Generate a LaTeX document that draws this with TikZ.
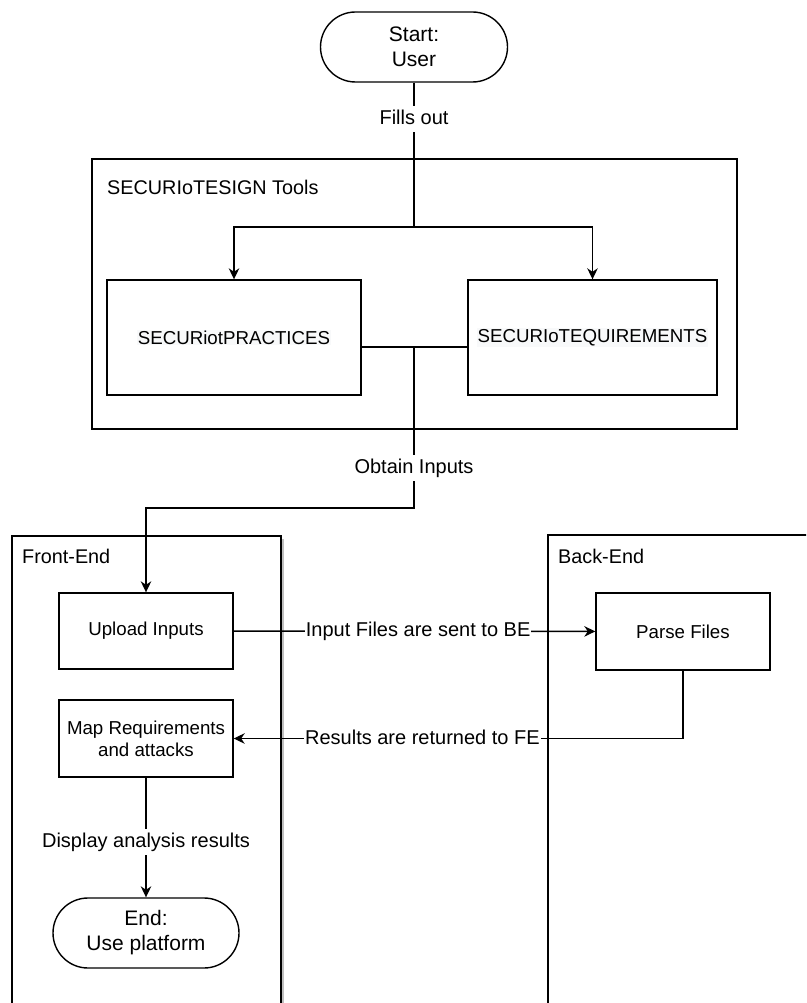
\documentclass[tikz,border=0pt]{standalone}
\usepackage{fontspec}
\setmainfont{Liberation Sans}
\usetikzlibrary{arrows.meta,shadows}
\definecolor{hlgray}{HTML}{F8F9FA}
\begin{document}
\begin{tikzpicture}[x=1pt, y=-1pt,
    every node/.style={font=\fontsize{18.7}{22}\selectfont},
    box/.style={draw, line width=1.4pt, fill=white, inner sep=0pt, align=center},
    terminal/.style={box, rounded corners=35pt, minimum height=70pt, font=\fontsize{21}{25}\selectfont},
    group/.style={draw, line width=1.4pt, inner sep=0pt},
    grouplbl/.style={anchor=west, inner sep=0pt, font=\fontsize{19.8}{24}\selectfont},
    edgelbl/.style={fill=white, inner xsep=1pt, inner ysep=3.5pt, text height=15pt, text depth=4pt, font=\fontsize{20}{24}\selectfont},
    flow/.style={line width=1.4pt},
    arrow/.style={flow, -{Stealth[length=11pt, width=10.5pt, inset=3.5pt]}}]
    \useasboundingbox (0,0) rectangle (806,1003);
    \clip (0,0) rectangle (806,1003);
    \node[group, minimum width=645pt, minimum height=270pt] (tools) at (414.5,294) {};
    \node[group, fill=white, minimum width=269pt, minimum height=474pt, drop shadow={shadow xshift=2.5pt, shadow yshift=-2.5pt, fill=black, opacity=0.25}] (frontend) at (146.5,773) {};
    \node[group, minimum width=267pt, minimum height=475pt] (backend) at (681.5,772.5) {};
    \node[grouplbl] (toolslbl) at (107,187) {SECURIoTESIGN Tools};
    \node[grouplbl] (frontlbl) at (22,556) {Front-End};
    \node[grouplbl] (backlbl) at (558,556) {Back-End};
    \node[terminal, minimum width=187pt] (start) at (414,47) {Start:\\User};
    \node[box, minimum width=254pt, minimum height=115pt] (practices) at (234,337.5) {\setlength{\fboxsep}{1pt}\colorbox{hlgray}{SECURiotPRACTICES}};
    \node[box, minimum width=249pt, minimum height=115pt] (requirements) at (592.5,337.5) {\setlength{\fboxsep}{1pt}\colorbox{hlgray}{SECURIoTEQUIREMENTS}};
    \node[box, minimum width=174pt, minimum height=76pt] (upload) at (146,631) {Upload Inputs};
    \node[box, minimum width=174pt, minimum height=77pt] (parse) at (683,631.5) {Parse Files};
    \node[box, minimum width=174pt, minimum height=77pt] (map) at (146,738.5) {Map Requirements\\and attacks};
    \node[terminal, minimum width=186pt] (end) at (146,933) {End:\\Use platform};
    \coordinate (split) at (414,227);
    \coordinate (joint) at (414,347);
    \coordinate (turn) at (414,508);
    \draw[flow] (start) -- node[edgelbl, pos=0.25] {Fills out} (split);
    \draw[arrow] (split) -| (practices);
    \draw[arrow] (split) -| (requirements);
    \draw[flow] (practices.east |- joint) -- (requirements.west |- joint);
    \draw[arrow] (joint) -- node[edgelbl, pos=0.75] {Obtain Inputs} (turn) -| (upload);
    \draw[arrow] (upload) -- node[edgelbl, pos=0.51] {Input Files are sent to BE} (parse);
    \draw[arrow] (parse) |- node[edgelbl, pos=0.79] {Results are returned to FE} (map);
    \draw[arrow] (map) -- node[edgelbl, pos=0.537] {Display analysis results} (end);
\end{tikzpicture}
\end{document}
